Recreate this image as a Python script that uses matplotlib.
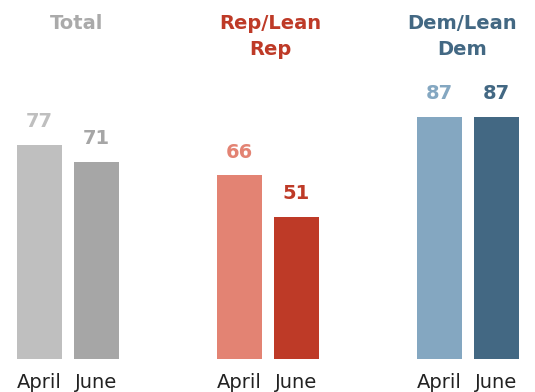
import numpy as np
import matplotlib.pyplot as plt

# Datos
grupos = ['Total', 'Rep/Lean\nRep', 'Dem/Lean\nDem']
meses = ['April', 'June']
abril = [77, 66, 87]
junio = [71, 51, 87]

col_abril = ['#BFBFBF', '#E38373', '#84A7C1']
col_junio = ['#A6A6A6', '#BE3A27', '#436883']
col_titulo = ['#AAAAAA', '#BE3A27', '#436883']

fig = plt.figure(figsize=(5.35, 3.92), dpi=100)
ax = fig.add_axes([0, 0.0842, 1, 0.9158])

x = np.arange(len(grupos))
ancho = 0.225
desp = 0.1425

b1 = ax.bar(x - desp, abril, ancho, color=col_abril)
b2 = ax.bar(x + desp, junio, ancho, color=col_junio)

# Etiquetas de valores
for barras, cols in [(b1, col_abril), (b2, col_junio)]:
    for b, c in zip(barras, cols):
        ax.annotate(f'{b.get_height():.0f}', (b.get_x() + b.get_width() / 2, b.get_height()),
                    xytext=(0, 10), textcoords='offset points', ha='center', va='bottom',
                    fontsize=14, fontweight='bold', color=c)

# Meses debajo de cada barra
for i in range(len(grupos)):
    for j, m in enumerate(meses):
        ax.annotate(m, (x[i] + (2 * j - 1) * desp, 0), xytext=(0, -10),
                    textcoords='offset points', ha='center', va='top',
                    fontsize=14, color='#222222')

# Títulos de grupo
ajuste = [0.045, 0.01, -0.03]
for i, g in enumerate(grupos):
    ax.text(x[i] + ajuste[i], 129.1 - 5.0, g, ha='center', va='top', fontsize=14,
            fontweight='bold', color=col_titulo[i], linespacing=1.45)

ax.set_xlim(-0.34, 2.335)
ax.set_ylim(0, 129.1)
ax.axis('off')

fig.savefig('out.png', dpi=100)
